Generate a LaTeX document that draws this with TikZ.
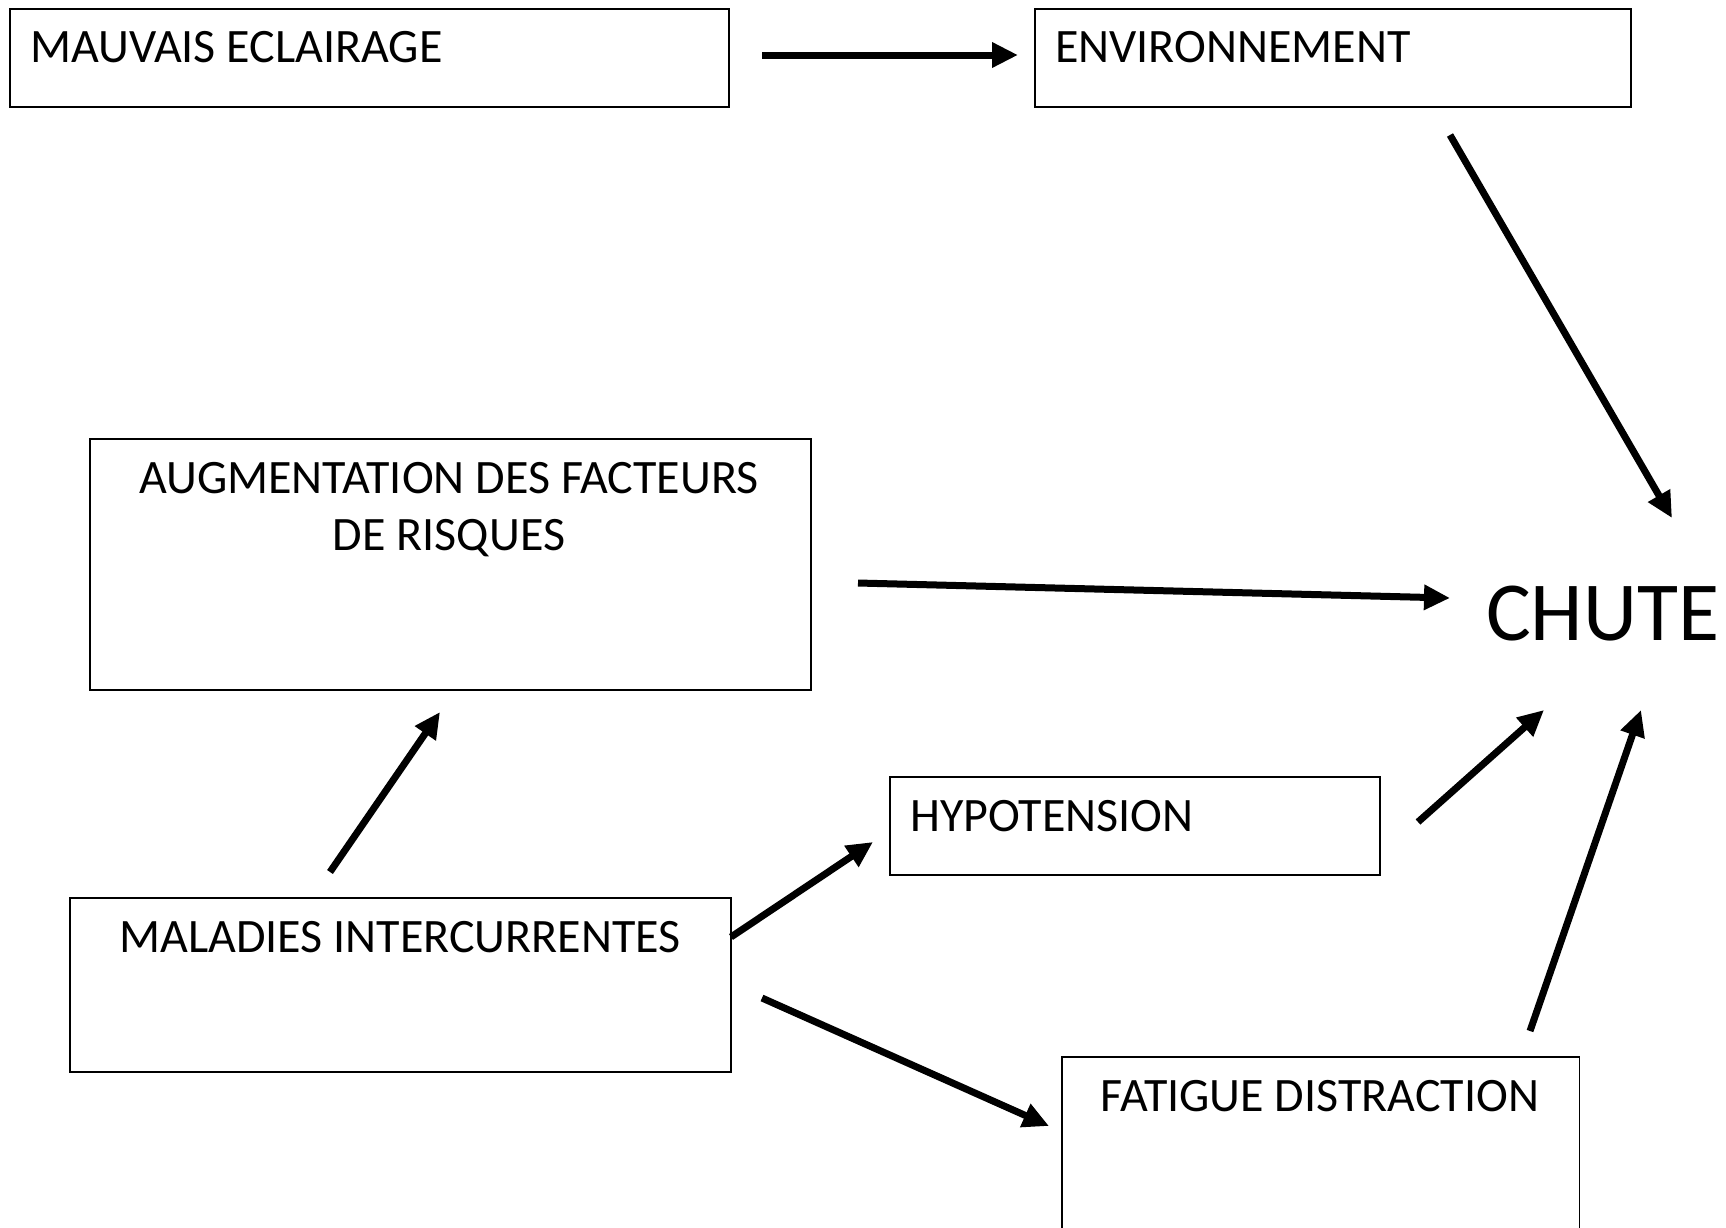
\documentclass[tikz,border=0pt]{standalone}
\usepackage{fontspec}
\setmainfont{Carlito}
\usetikzlibrary{arrows.meta}
\begin{document}
\begin{tikzpicture}[x=1pt,y=-1pt,
  boxst/.style={draw=black, line width=1.6pt, inner sep=0pt, anchor=north west},
  txt/.style={font=\fontsize{48}{57}\selectfont, inner sep=0pt},
  arr/.style={line width=7pt, -{Triangle[length=26pt,width=24pt]}}]
\useasboundingbox[fill=white] (0,0) rectangle (1726,1227);
% boxes
\node[boxst, minimum width=719pt, minimum height=98pt] (mauv) at (9,8) {};
\node[boxst, minimum width=596pt, minimum height=98pt] (env) at (1034,8) {};
\node[boxst, minimum width=721pt, minimum height=251pt] (aug) at (89,438) {};
\node[boxst, minimum width=490pt, minimum height=98pt] (hypo) at (889,776) {};
\node[boxst, minimum width=661pt, minimum height=174pt] (mal) at (69,897) {};
\node[inner sep=0pt, anchor=north west, minimum width=517pt, minimum height=190pt] (fat) at (1062,1057) {};
\draw[line width=1.6pt] (fat.south west) |- (fat.north east) -- (fat.south east);
% texts
\node[txt, anchor=base west] (tmauv) at (30,62) {MAUVAIS ECLAIRAGE};
\node[txt, anchor=base west] (tenv) at (1055,62) {ENVIRONNEMENT};
\node[txt, anchor=north, align=center] (taug) at (449,462) {AUGMENTATION DES FACTEURS\\DE RISQUES};
\node[txt, anchor=base west] (thypo) at (910,831) {HYPOTENSION};
\node[txt, anchor=base] (tmal) at (400,952) {MALADIES INTERCURRENTES};
\node[txt, anchor=base] (tfat) at (1320,1111) {FATIGUE DISTRACTION};
\node[font=\fontsize{84}{100}\selectfont, inner sep=0pt, anchor=base west] (chute) at (1486,640) {CHUTE};
% arrow endpoints
\coordinate (a1s) at (762,55);   \coordinate (a1e) at (1018,55);
\coordinate (a2s) at (1450,135); \coordinate (a2e) at (1672,518);
\coordinate (a3s) at (858,583);  \coordinate (a3e) at (1450,598);
\coordinate (a4s) at (330,872);  \coordinate (a4e) at (440,712);
\coordinate (a5s) at (731,937);  \coordinate (a5e) at (873,842);
\coordinate (a6s) at (762,998);  \coordinate (a6e) at (1049,1126);
\coordinate (a7s) at (1418,822); \coordinate (a7e) at (1544,710);
\coordinate (a8s) at (1530,1031);\coordinate (a8e) at (1641,710);
\draw[arr] (a1s) -- (a1e);
\draw[arr] (a2s) -- (a2e);
\draw[arr] (a3s) -- (a3e);
\draw[arr] (a4s) -- (a4e);
\draw[arr] (a5s) -- (a5e);
\draw[arr] (a6s) -- (a6e);
\draw[arr] (a7s) -- (a7e);
\draw[arr] (a8s) -- (a8e);
\end{tikzpicture}
\end{document}
